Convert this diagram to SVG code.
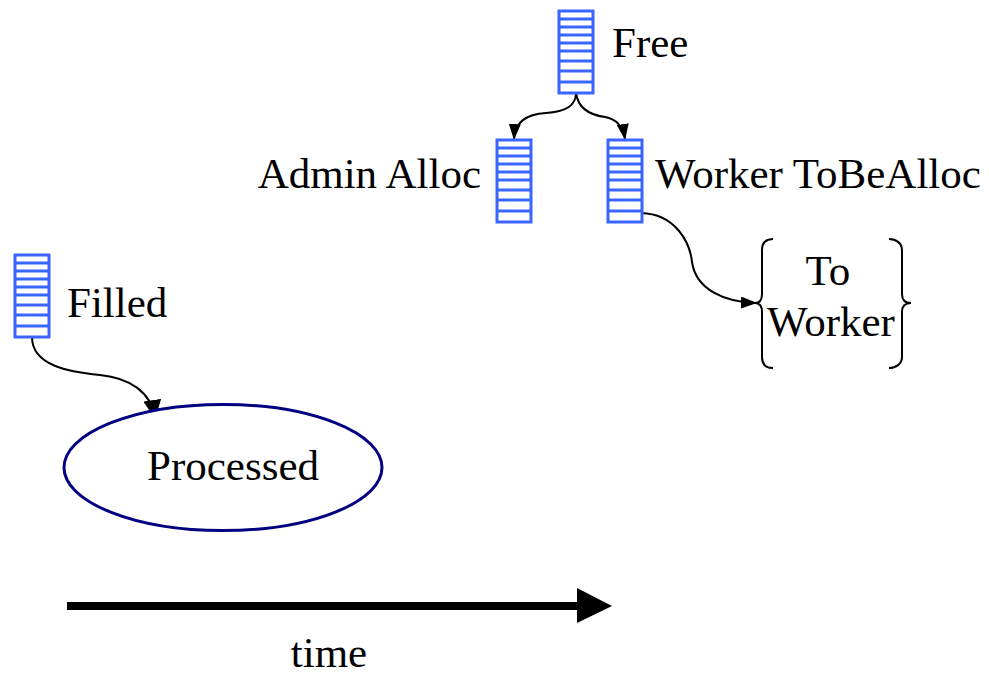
<svg xmlns="http://www.w3.org/2000/svg" xmlns:xlink="http://www.w3.org/1999/xlink" width="989" height="676" viewBox="0 0 989 676">
  <style>
    text { font-family: 'Liberation Serif', 'Times New Roman', serif; font-size: 43px; fill: #000; }
    .stk { fill: #fff; stroke: #3a66ff; stroke-width: 3; }
    .stkl { stroke: #3a66ff; stroke-width: 3; }
    .conn { fill: none; stroke: #000; stroke-width: 2; marker-end: url(#arr); }
    .conn.big { marker-end: url(#arrBig); }
    .brace { fill: none; stroke: #000; stroke-width: 2; }
  </style>
  <defs>
    <marker id="arr" viewBox="0 0 16 12" refX="15" refY="6" markerWidth="16" markerHeight="12" markerUnits="userSpaceOnUse" orient="auto">
      <path d="M0,0 L16,6 L0,12 z" fill="#000"/>
    </marker>
    <marker id="arrBig" viewBox="0 0 19 18" refX="18" refY="9" markerWidth="19" markerHeight="18" markerUnits="userSpaceOnUse" orient="auto">
      <path d="M0,0 L19,9 L0,18 z" fill="#000"/>
    </marker>
    <!-- buffer stack icon: 34 x 82 -->
    <g id="stack">
      <rect class="stk" x="0" y="0" width="34" height="82"/>
      <path class="stkl" d="M0,8H34M0,16H34M0,24H34M0,32H34M0,40H34M0,50H34M0,60H34M0,71H34"/>
    </g>
  </defs>
  <rect width="989" height="676" fill="#fff"/>

  <!-- connectors -->
  <g id="connectors">
    <path class="conn" d="M576,93 C576,108 562,112 546,113 C527,114 515,121 514,139"/>
    <path class="conn" d="M576,93 C578,108 590,115 605,117 C616,119 623,126 625,139"/>
    <path class="conn" d="M641,213 C676,214 690,243 692,262 C696,290 725,302 756,303"/>
    <path class="conn big" d="M32,337 C32,366 70,372 100,375 C130,378 151,392 155,418"/>
  </g>

  <g id="free">
    <use xlink:href="#stack" x="559" y="11"/>
    <text x="612" y="57">Free</text>
  </g>

  <g id="admin-alloc">
    <use xlink:href="#stack" x="497" y="140"/>
    <text x="481" y="188" text-anchor="end">Admin Alloc</text>
  </g>

  <g id="worker-tobealloc">
    <use xlink:href="#stack" x="608" y="140"/>
    <text x="655" y="188">Worker ToBeAlloc</text>
  </g>

  <g id="to-worker">
    <path class="brace" d="M773,239 C766,239 762,243 762,250 L762,294 C762,300 760,303 755,303 C760,303 762,306 762,312 L762,357 C762,364 766,368 773,368"/>
    <path class="brace" d="M889,239 C896,239 902,243 902,250 L902,294 C902,300 905,303 911,303 C905,303 902,306 902,312 L902,357 C902,364 896,368 889,368"/>
    <text x="828" y="285" text-anchor="middle">To</text>
    <text x="831" y="336" text-anchor="middle">Worker</text>
  </g>

  <g id="filled">
    <use xlink:href="#stack" x="15" y="255"/>
    <text x="67" y="317">Filled</text>
  </g>

  <g id="processed">
    <ellipse cx="223" cy="467.5" rx="159" ry="63" fill="#fff" stroke="#000080" stroke-width="3"/>
    <text x="233" y="480" text-anchor="middle">Processed</text>
  </g>

  <g id="time-axis">
    <line x1="67" y1="606" x2="580" y2="606" stroke="#000" stroke-width="8"/>
    <path d="M577,588 L612,606 L577,623 z" fill="#000"/>
    <text x="329" y="667" text-anchor="middle">time</text>
  </g>
</svg>
